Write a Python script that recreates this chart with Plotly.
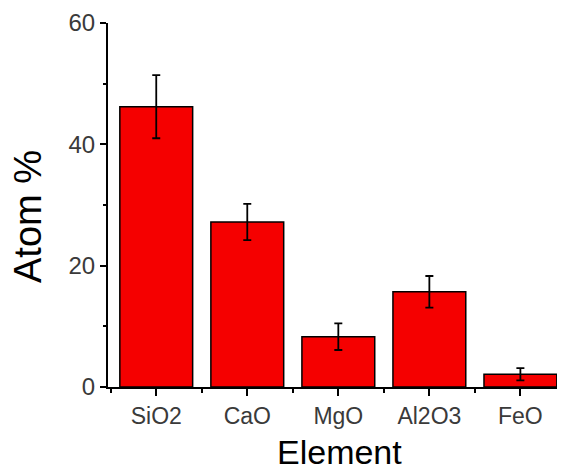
import plotly.graph_objects as go

categories = ["SiO2", "CaO", "MgO", "Al2O3", "FeO"]
values = [46.2, 27.2, 8.3, 15.7, 2.1]
errors = [5.2, 3.0, 2.2, 2.6, 1.0]
y_ticks = [0, 20, 40, 60]
y_minor = [10, 30, 50]

xpos = list(range(len(categories)))
x_minor = [i - 0.5 for i in range(len(categories) + 1)]

FONT = "Arial, Liberation Sans, sans-serif"
OFF = 8  # page body margin

fig = go.Figure()
fig.add_trace(go.Bar(
    x=xpos, y=values, width=0.8,
    marker=dict(color="#f50000", line=dict(color="black", width=1.5)),
    error_y=dict(type="data", array=errors, visible=True, color="black",
                 thickness=1.8, width=4),
))

fig.update_layout(
    width=565 - OFF, height=475 - OFF,
    margin=dict(l=108 - OFF, r=0, t=23 - OFF, b=88, pad=0),
    paper_bgcolor="white", plot_bgcolor="white",
    showlegend=False,
    font=dict(family=FONT),
    xaxis=dict(
        range=[-0.53, 4.49],
        tickvals=xpos, ticktext=categories,
        ticks="outside", ticklen=7, tickwidth=1.5, tickcolor="black",
        showline=True, linewidth=2, linecolor="black",
        showgrid=False, zeroline=False,
        tickfont=dict(size=23, color="#3a3a3a", family=FONT),
        minor=dict(tickvals=x_minor, ticks="outside", ticklen=4,
                   tickwidth=1.5, tickcolor="black", showgrid=False),
    ),
    yaxis=dict(
        range=[0, 60],
        tickvals=y_ticks,
        ticks="outside", ticklen=6, tickwidth=1.5, tickcolor="black",
        showline=True, linewidth=2, linecolor="black",
        showgrid=False, zeroline=False,
        tickfont=dict(size=24, color="#3a3a3a", family=FONT),
        minor=dict(tickvals=y_minor, ticks="outside", ticklen=3,
                   tickwidth=1.5, tickcolor="black", showgrid=False),
    ),
    annotations=[
        dict(text="Element", xref="paper", yref="paper",
             x=(339.5 - 108) / 457, y=0, yshift=-65,
             xanchor="center", yanchor="middle", showarrow=False,
             font=dict(size=34, color="black", family=FONT)),
        dict(text="Atom %", xref="paper", yref="paper",
             x=0, xshift=-80, y=(387 - 217) / 364,
             xanchor="center", yanchor="middle", textangle=-90,
             showarrow=False,
             font=dict(size=38, color="black", family=FONT)),
    ],
)

fig.write_html("out.html")
